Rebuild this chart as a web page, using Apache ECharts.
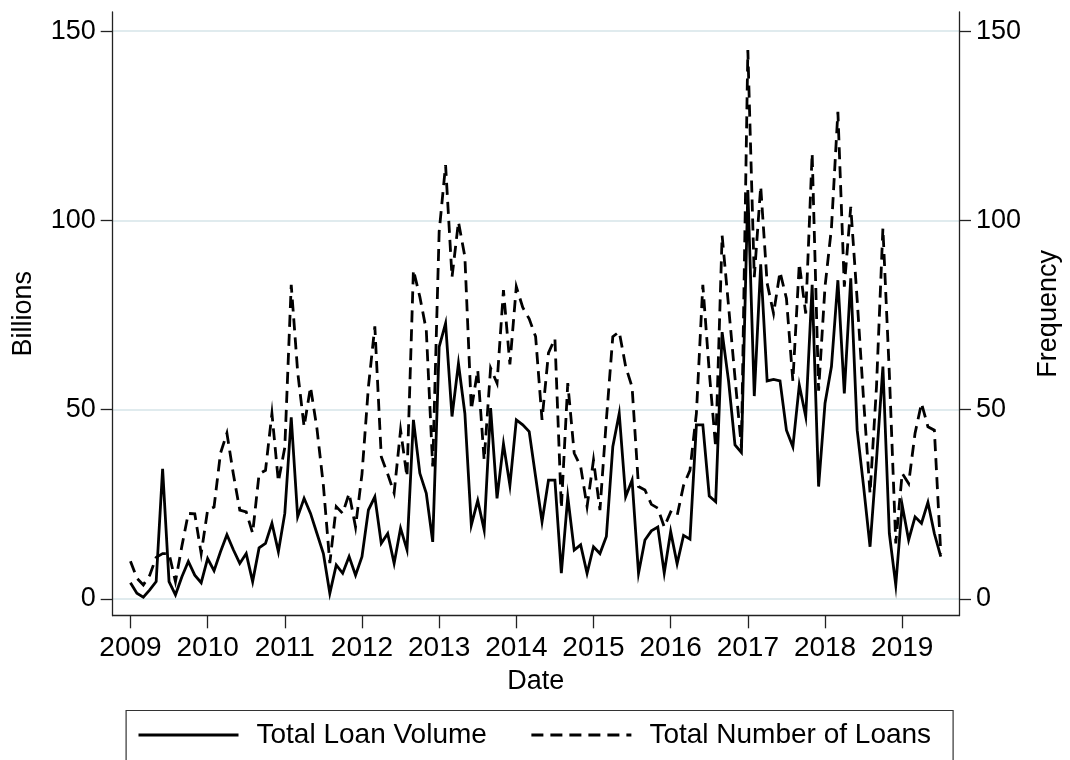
<!DOCTYPE html>
<html>
<head>
<meta charset="utf-8">
<title>Loan volume and number of loans</title>
<script src="https://cdn.jsdelivr.net/npm/echarts@6/dist/echarts.min.js"></script>
<style>
  html, body { margin: 0; padding: 0; background: #ffffff; }
  #chart { width: 1070px; height: 760px; }
</style>
</head>
<body>
<div id="chart"></div>
<script>
// Monthly series, January 2009 to July 2019
const startYear = 2009;
const volume = [
  4.3, 1.5, 0.5, 2.4, 4.6, 34.4, 4.6, 1.1, 5.9, 9.9,
  6.3, 4.3, 10.7, 7.5, 12.5, 17, 13, 9.4, 12, 4.6,
  13.5, 14.7, 20, 12.5, 22.6, 48, 21.7, 26.6, 22.6, 17.3,
  12, 1.5, 9, 6.8, 11.2, 6.3, 11.2, 23.5, 27, 14.7,
  17.3, 9.4, 18.7, 13, 47.3, 33.2, 27.9, 15.1, 66.6, 72.8,
  48.2, 62.2, 49, 19.5, 26, 18.2, 50.4, 26.6, 41, 30,
  47.3, 46, 44.2, 32.3, 20.4, 31.4, 31.4, 6.8, 27, 12.9,
  14.3, 6.8, 13.8, 12, 16.5, 40.2, 49, 27, 31.4, 6.8,
  15.6, 18, 19, 6.9, 17.8, 9.3, 16.8, 15.8, 46, 46,
  27.2, 25.7, 70.5, 57.6, 40.7, 38.7, 108, 53.6, 88.4, 57.6,
  58, 57.6, 44.6, 40.2, 56.5, 48.2, 83, 29.7, 51.7, 61.4,
  84.2, 54.3, 84.7, 44.6, 29.7, 13.8, 36.7, 61.4, 17.3, 3.7,
  24.8, 15.6, 21.7, 20, 25.5, 17.3, 11.2
];
const loans = [
  10, 5.5, 3.7, 6.3, 11, 12, 12, 4.6, 14, 22.6,
  22.5, 12, 23.5, 24.3, 38.5, 43.8, 33, 23.5, 23, 17.4,
  33, 34, 49, 31, 40, 83, 60, 45.5, 56, 45,
  30, 9.5, 24.4, 22.6, 27.9, 19, 33, 56, 72, 37.6,
  33, 28, 44.6, 32.3, 86.9, 79.8, 71, 35, 97, 114.6,
  85, 99.6, 90.4, 50, 60.5, 36.7, 61, 57, 81.6, 62,
  82.5, 77, 74, 69.3, 47.3, 65, 68.8, 24, 57, 38.5,
  35, 24.4, 36.7, 23.5, 47.3, 69.3, 70.6, 61.4, 56, 29.7,
  28.8, 25, 24, 19, 23, 22, 30, 34, 49, 83,
  60, 40, 96, 77.4, 58.5, 40, 145, 85, 109, 83.4,
  75.4, 86.4, 79.4, 57.6, 88.6, 75.4, 117.7, 55, 82.5, 98,
  128.7, 82.5, 103.6, 79, 52.5, 27.9, 56, 97.9, 59.6, 14.7,
  33.2, 30.5, 43.8, 51.7, 45.5, 44.6, 12
];
const yearTicks = [2009, 2010, 2011, 2012, 2013, 2014, 2015, 2016, 2017, 2018, 2019];
const valueTicks = [0, 50, 100, 150];

// month index -> fractional year on the date axis
const toPoints = arr => arr.map((v, i) => [startYear + i / 12, v]);

const FONT = '"Liberation Sans", Arial, sans-serif';
const AXIS_COLOR = '#222';
const LINE_W = 2.8;
const DASH = [12, 7];

const chart = echarts.init(document.getElementById('chart'), null, { renderer: 'canvas' });

const valueAxis = (name, position, showSplit) => ({
  type: 'value',
  position: position,
  min: -4.41,
  max: 155.04,
  name: name,
  nameLocation: 'middle',
  nameRotate: 90,
  nameGap: 76,
  nameTextStyle: { fontFamily: FONT, fontSize: 27, color: '#000' },
  axisLine: { show: true, lineStyle: { color: AXIS_COLOR, width: 1.3 } },
  axisTick: { show: true, inside: false, length: 12, customValues: valueTicks,
              lineStyle: { color: AXIS_COLOR, width: 1.3 } },
  axisLabel: { show: true, customValues: valueTicks, margin: 17,
               fontFamily: FONT, fontSize: 27, color: '#000' },
  splitLine: { show: showSplit, lineStyle: { color: '#e0ebee', width: 1.8 } }
});

chart.setOption({
  animation: false,
  backgroundColor: '#ffffff',
  grid: { left: 112.7, right: 108, top: 12, bottom: 144.3, containLabel: false },
  xAxis: {
    type: 'value',
    min: 2008.77,
    max: 2019.736,
    name: 'Date',
    nameLocation: 'middle',
    nameGap: 50,
    nameTextStyle: { fontFamily: FONT, fontSize: 27, color: '#000' },
    axisLine: { show: true, onZero: false, lineStyle: { color: AXIS_COLOR, width: 1.3 } },
    axisTick: { show: true, length: 12.6, customValues: yearTicks,
                lineStyle: { color: AXIS_COLOR, width: 1.3 } },
    axisLabel: { customValues: yearTicks, margin: 19, fontFamily: FONT, fontSize: 28, color: '#000',
                 formatter: v => String(Math.round(v)) },
    splitLine: { show: false }
  },
  yAxis: [
    valueAxis('Billions', 'left', true),
    valueAxis('Frequency', 'right', false)
  ],
  legend: {
    left: 137,
    top: 721,
    orient: 'horizontal',
    padding: 0,
    itemWidth: 100,
    itemHeight: 14,
    itemGap: 43,
    itemStyle: { opacity: 0 },
    lineStyle: { width: 3, color: '#000' },
    textStyle: { fontFamily: FONT, fontSize: 28, color: '#000', padding: [0, 0, 0, 13] },
    data: ['Total Loan Volume', 'Total Number of Loans']
  },
  // legend frame, open at the bottom edge of the canvas
  graphic: [{
    type: 'rect',
    left: 123.6,
    top: 708,
    shape: { width: 827, height: 80 },
    style: { fill: 'none', stroke: '#333', lineWidth: 1.2 },
    silent: true
  }],
  series: [
    {
      name: 'Total Loan Volume',
      type: 'line',
      yAxisIndex: 0,
      data: toPoints(volume),
      showSymbol: false,
      symbol: 'none',
      lineStyle: { color: '#000', width: LINE_W, type: 'solid', join: 'miter' },
      itemStyle: { color: '#000' }
    },
    {
      name: 'Total Number of Loans',
      type: 'line',
      yAxisIndex: 1,
      data: toPoints(loans),
      showSymbol: false,
      symbol: 'none',
      lineStyle: { color: '#000', width: LINE_W, type: DASH, join: 'miter' },
      itemStyle: { color: '#000' }
    }
  ]
});
</script>
</body>
</html>
